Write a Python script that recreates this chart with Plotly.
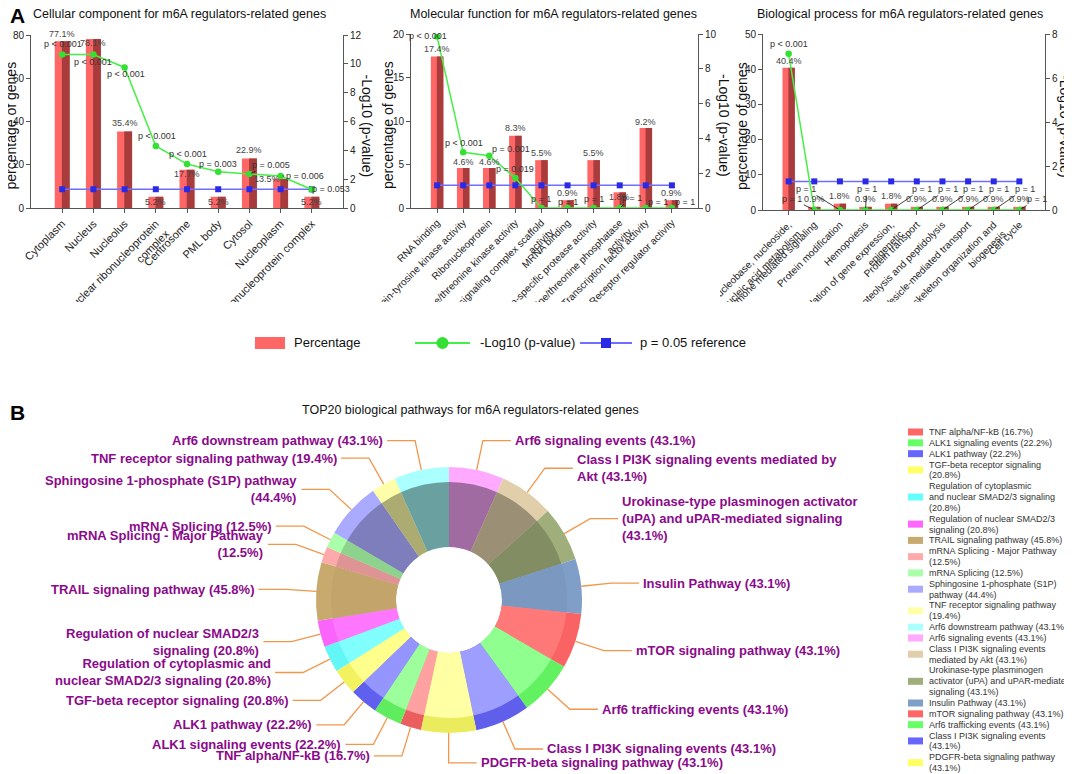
import numpy as np
import plotly.graph_objects as go

W, H = 1072, 774
OX, OY = 8, 8          # the page body margin shifts the figure by this much
FONT = "Liberation Sans, Arial, sans-serif"

# ---------------- A: GO enrichment data ----------------
cc_terms = ["Cytoplasm", "Nucleus", "Nucleolus",
            "Heterogeneous nuclear ribonucleoprotein<br>complex",
            "Centrosome", "PML body", "Cytosol", "Nucleoplasm",
            "Ribonucleoprotein complex"]
cc_pct = [77.1, 78.1, 35.4, 5.2, 17.7, 5.2, 22.9, 13.5, 5.2]
cc_logp = [10.65, 10.65, 9.75, 4.3, 3.05, 2.52, 2.36, 2.22, 1.28]
cc_pval = ["p < 0.001", "p < 0.001", "p < 0.001", "p < 0.001", "p < 0.001",
           "p = 0.003", "p = 0.005", "p = 0.006", "p = 0.053"]

mf_terms = ["RNA binding", "Protein-tyrosine kinase activity", "Ribonucleoprotein",
            "Protein serine/threonine kinase activity",
            "Receptor signaling complex scaffold<br>activity", "MRNA binding",
            "Ubiquitin-specific protease activity",
            "Protein serine/threonine phosphatase<br>activity",
            "Transcription factor activity", "Receptor regulator activity"]
mf_pct = [17.4, 4.6, 4.6, 8.3, 5.5, 0.9, 5.5, 1.8, 9.2, 0.9]
mf_logp = [9.85, 3.2, 3.0, 1.72, 0, 0, 0, 0, 0, 0]
mf_pval = ["p < 0.001", "p < 0.001", "p = 0.001", "p = 0.019",
           "p = 1", "p = 1", "p = 1", "p = 1", "p = 1", "p = 1"]

bp_terms = ["Regulation of nucleobase, nucleoside,<br>nucleotide and nucleic acid metabolism",
            "Steroid hormone mediated signaling", "Protein modification", "Hemopoiesis",
            "Regulation of gene expression,<br>epigenetic", "Protein transport",
            "Proteolysis and peptidolysis", "Vesicle-mediated transport",
            "Cytoskeleton organization and<br>biogenesis", "Cell cycle"]
bp_pct = [40.4, 0.9, 1.8, 0.9, 1.8, 0.9, 0.9, 0.9, 0.9, 0.9]
bp_logp = [7.1, 0, 0, 0, 0, 0, 0, 0, 0, 0]
bp_pval = ["p < 0.001"] + ["p = 1"] * 9

p_ref = 0.05
ref_level = -np.log10(p_ref)

# ---------------- B: pathway data (legend order) ----------------
path_names = ["TNF alpha/NF-kB", "ALK1 signaling events", "ALK1 pathway",
              "TGF-beta receptor signaling",
              "Regulation of cytoplasmic and nuclear SMAD2/3 signaling",
              "Regulation of nuclear SMAD2/3 signaling", "TRAIL signaling pathway",
              "mRNA Splicing - Major Pathway", "mRNA Splicing",
              "Sphingosine 1-phosphate (S1P) pathway", "TNF receptor signaling pathway",
              "Arf6 downstream pathway", "Arf6 signaling events",
              "Class I PI3K signaling events mediated by Akt",
              "Urokinase-type plasminogen activator (uPA) and uPAR-mediated signaling",
              "Insulin Pathway", "mTOR signaling pathway", "Arf6 trafficking events",
              "Class I PI3K signaling events", "PDGFR-beta signaling pathway"]
path_pct = [16.7, 22.2, 22.2, 20.8, 20.8, 20.8, 45.8, 12.5, 12.5, 44.4, 19.4,
            43.1, 43.1, 43.1, 43.1, 43.1, 43.1, 43.1, 43.1, 43.1]
donut_labels = ["TNF alpha/NF-kB (16.7%)", "ALK1 signaling events (22.2%)",
                "ALK1 pathway (22.2%)", "TGF-beta receptor signaling (20.8%)",
                "Regulation of cytoplasmic and<br>nuclear SMAD2/3 signaling (20.8%)",
                "Regulation of nuclear SMAD2/3<br>signaling (20.8%)",
                "TRAIL signaling pathway (45.8%)",
                "mRNA Splicing - Major Pathway<br>(12.5%)", "mRNA Splicing (12.5%)",
                "Sphingosine 1-phosphate (S1P) pathway<br>(44.4%)",
                "TNF receptor signaling pathway (19.4%)",
                "Arf6 downstream pathway (43.1%)", "Arf6 signaling events (43.1%)",
                "Class I PI3K signaling events mediated by<br>Akt (43.1%)",
                "Urokinase-type plasminogen activator<br>(uPA) and uPAR-mediated signaling<br>(43.1%)",
                "Insulin Pathway (43.1%)", "mTOR signaling pathway (43.1%)",
                "Arf6 trafficking events (43.1%)", "Class I PI3K signaling events (43.1%)",
                "PDGFR-beta signaling pathway (43.1%)"]
legend_labels = ["TNF alpha/NF-kB (16.7%)", "ALK1 signaling events (22.2%)",
                 "ALK1 pathway (22.2%)", "TGF-beta receptor signaling<br>(20.8%)",
                 "Regulation of cytoplasmic<br>and nuclear SMAD2/3 signaling<br>(20.8%)",
                 "Regulation of nuclear SMAD2/3<br>signaling (20.8%)",
                 "TRAIL signaling pathway (45.8%)",
                 "mRNA Splicing - Major Pathway<br>(12.5%)", "mRNA Splicing (12.5%)",
                 "Sphingosine 1-phosphate (S1P)<br>pathway (44.4%)",
                 "TNF receptor signaling pathway<br>(19.4%)",
                 "Arf6 downstream pathway (43.1%)", "Arf6 signaling events (43.1%)",
                 "Class I PI3K signaling events<br>mediated by Akt (43.1%)",
                 "Urokinase-type plasminogen<br>activator (uPA) and uPAR-mediated<br>signaling (43.1%)",
                 "Insulin Pathway (43.1%)", "mTOR signaling pathway (43.1%)",
                 "Arf6 trafficking events (43.1%)",
                 "Class I PI3K signaling events<br>(43.1%)",
                 "PDGFR-beta signaling pathway<br>(43.1%)"]
path_colors = ["#FF6666", "#66FF66", "#6666FF", "#FFFF66", "#66FFFF", "#FF66FF",
               "#C8A96E", "#FFAAAA", "#AAFFAA", "#AAAAFF", "#FFFFAA", "#AAFFFF",
               "#FFAAFF", "#E0CFAA", "#A0AE7C", "#7F9EC8", "#FF6666", "#66FF66",
               "#6666FF", "#FFFF66"]


def px(x):
    # page pixel -> paper fraction
    return (x - OX) / W


def py(y):
    return 1 - (y - OY) / H


ann = []
shp = []
fig = go.Figure()

# label placement (pixels) for panel A
panels = [
    dict(terms=cc_terms, pct=cc_pct, logp=cc_logp, pval=cc_pval,
         title="Cellular component for m6A regulators-related genes",
         box=(31, 343, 35, 208), ymax=80, ydt=20, y2max=12, tsize=11,
         title_x=179, yt_x=10, y2t_x=367,
         lab_up=[7, -4, 8, -5, -4, -5, 8, 0, -5],
         lab_dx=[0, 0, 0, 0, 0, 0, 0, -14, 0],
         p_dx=[1, 0, 1, 1, 1, 0, 22, 24, 19],
         p_dy=[-10, 8, 7, -10, -10, -8, -9, 0, -1],
         p_arr=[0, 0, 0, 0, 0, 0, 1, 1, 0]),
    dict(terms=mf_terms, pct=mf_pct, logp=mf_logp, pval=mf_pval,
         title="Molecular function for m6A regulators-related genes",
         box=(411, 698, 34, 208), ymax=20, ydt=5, y2max=10, tsize=10,
         title_x=553, yt_x=388, y2t_x=724,
         lab_up=[8, 6, 6, 8, 7, 7, 7, -5, 6, 7],
         lab_dx=[0] * 10,
         p_dx=[-9, 1, 22, 0, 0, 0, 0, 12, 12, 13],
         p_dy=[-1, -9, -7, -9, -9, -6, -9, -10, -6, -6],
         p_arr=[0, 0, 1, 0, 0, 0, 0, 1, 1, 1]),
    dict(terms=bp_terms, pct=bp_pct, logp=bp_logp, pval=bp_pval,
         title="Biological process for m6A regulators-related genes",
         box=(763, 1045, 34, 210), ymax=50, ydt=10, y2max=8, tsize=10,
         title_x=900, yt_x=742, y2t_x=1065,
         lab_up=[7] + [8] * 9,
         lab_dx=[0] * 10,
         p_dx=[0, -22, -34, 1, 31, 31, 31, 31, 31, 18],
         p_dy=[-10, -11, -21, -21, -21, -21, -21, -21, -21, -11],
         p_arr=[0] + [1] * 9),
]

BAR_LIGHT, BAR_DARK = "#FF6666", "#A83C3C"
GREEN, GREEN_M = "#44F044", "#33E033"
BLUE, BLUE_M = "#6E6EFF", "#2A2AE6"
AX = "#555555"

for k, p in enumerate(panels, start=1):
    xa = "x" if k == 1 else "x%d" % k
    ya = "y" if k == 1 else "y%d" % (2 * k - 1)
    ya2 = "y%d" % (2 * k)
    n = len(p["terms"])
    idx = list(range(n))
    x0, x1, y0, y1 = p["box"]

    fig.add_trace(go.Bar(x=idx, y=p["pct"], width=0.48, offset=-0.24,
                         marker=dict(color=BAR_LIGHT, line=dict(width=0)),
                         xaxis=xa, yaxis=ya, hoverinfo="skip", showlegend=False))
    fig.add_trace(go.Bar(x=idx, y=p["pct"], width=0.25, offset=-0.01,
                         marker=dict(color=BAR_DARK, line=dict(width=0)),
                         xaxis=xa, yaxis=ya, hoverinfo="skip", showlegend=False))
    fig.add_trace(go.Scatter(x=idx, y=[ref_level] * n, mode="lines+markers",
                             line=dict(color=BLUE, width=1.5),
                             marker=dict(symbol="square", size=6, color=BLUE_M),
                             xaxis=xa, yaxis=ya2, hoverinfo="skip", showlegend=False))
    fig.add_trace(go.Scatter(x=idx, y=p["logp"], mode="lines+markers",
                             line=dict(color=GREEN, width=1.5),
                             marker=dict(symbol="circle", size=6.5, color=GREEN_M),
                             xaxis=xa, yaxis=ya2, hoverinfo="skip", showlegend=False))

    axis_common = dict(showline=True, linecolor=AX, linewidth=1, ticks="outside",
                       ticklen=4, tickcolor=AX, showgrid=False, zeroline=False,
                       fixedrange=True, automargin=False)
    fig.layout["xaxis" if k == 1 else "xaxis%d" % k] = dict(
        domain=[px(x0), px(x1)], range=[-1, n], tickmode="array", tickvals=idx,
        ticktext=p["terms"], tickangle=-45, anchor=ya,
        tickfont=dict(size=p["tsize"], color="#222", family=FONT), **axis_common)
    fig.layout["yaxis" if k == 1 else "yaxis%d" % (2 * k - 1)] = dict(
        domain=[py(y1), py(y0)], range=[0, p["ymax"]], dtick=p["ydt"], anchor=xa,
        tickfont=dict(size=10, color="#222", family=FONT), **axis_common)
    fig.layout["yaxis%d" % (2 * k)] = dict(
        domain=[py(y1), py(y0)], range=[0, p["y2max"]], dtick=2, anchor=xa,
        overlaying=ya, side="right",
        tickfont=dict(size=10, color="#222", family=FONT), **axis_common)

    # panel titles and axis titles
    ann.append(dict(x=px(p["title_x"]), y=py(14), xref="paper", yref="paper",
                    text=p["title"], showarrow=False, xanchor="center", yanchor="middle",
                    font=dict(size=12.5, color="#111", family=FONT)))
    ymid = (y0 + y1) / 2 + 4
    ann.append(dict(x=px(p["yt_x"]), y=py(ymid), xref="paper", yref="paper",
                    text="percentage of genes", showarrow=False, textangle=-90,
                    xanchor="center", yanchor="middle",
                    font=dict(size=14, color="#111", family=FONT)))
    ann.append(dict(x=px(p["y2t_x"]), y=py(ymid), xref="paper", yref="paper",
                    text="-Log10 (p-value)", showarrow=False, textangle=90,
                    xanchor="center", yanchor="middle",
                    font=dict(size=14, color="#111", family=FONT)))

    # percentage labels on bars
    for i in idx:
        ann.append(dict(x=i, y=p["pct"][i], xref=xa, yref=ya, text="%.1f%%" % p["pct"][i],
                        showarrow=False, xanchor="center", yanchor="middle",
                        xshift=p["lab_dx"][i], yshift=p["lab_up"][i],
                        font=dict(size=9, color="#444", family=FONT)))
    # p-value labels at the -log10 points
    for i in idx:
        a = dict(x=i, y=p["logp"][i], xref=xa, yref=ya2, text=p["pval"][i],
                 font=dict(size=9, color="#333", family=FONT))
        if p["p_arr"][i]:
            a.update(showarrow=True, ax=p["p_dx"][i], ay=p["p_dy"][i], arrowhead=0,
                     arrowwidth=0.8, arrowcolor="#111", standoff=2)
        else:
            a.update(showarrow=False, xanchor="center", yanchor="middle",
                     xshift=p["p_dx"][i], yshift=-p["p_dy"][i])
        ann.append(a)

# clip rotated category labels the way the panel crop does
shp.append(dict(type="rect", xref="paper", yref="paper", x0=0, x1=1,
                y0=py(398), y1=py(302), fillcolor="white", line=dict(width=0),
                layer="above"))
shp.append(dict(type="path", xref="paper", yref="paper",
                path="M %f,%f L %f,%f L %f,%f L %f,%f Z" % (
                    px(692), py(212), px(720), py(212), px(720), py(330), px(575), py(330)),
                fillcolor="white", line=dict(width=0), layer="above"))

# panel A legend
shp.append(dict(type="rect", xref="paper", yref="paper", x0=px(255), x1=px(285),
                y0=py(349), y1=py(337), fillcolor=BAR_LIGHT, line=dict(width=0), layer="above"))
shp.append(dict(type="line", xref="paper", yref="paper", x0=px(415), x1=px(470),
                y0=py(343), y1=py(343), line=dict(color=GREEN, width=2), layer="above"))
shp.append(dict(type="circle", xref="paper", yref="paper", x0=px(436.5), x1=px(448.5),
                y0=py(349), y1=py(337), fillcolor=GREEN_M, line=dict(width=0), layer="above"))
shp.append(dict(type="line", xref="paper", yref="paper", x0=px(580), x1=px(632),
                y0=py(343), y1=py(343), line=dict(color=BLUE, width=2), layer="above"))
shp.append(dict(type="rect", xref="paper", yref="paper", x0=px(601), x1=px(611),
                y0=py(348), y1=py(338), fillcolor=BLUE_M, line=dict(width=0), layer="above"))
for tx, t in [(292, "Percentage"), (478, "-Log10 (p-value)"), (638, "p = 0.05 reference")]:
    ann.append(dict(x=px(tx), y=py(343), xref="paper", yref="paper", text=t,
                    showarrow=False, xanchor="left", yanchor="middle",
                    font=dict(size=13, color="#111", family=FONT)))

# panel letters and B title
for letter, yy in [("A", 15), ("B", 412)]:
    ann.append(dict(x=px(8), y=py(yy), xref="paper", yref="paper", text=letter,
                    showarrow=False, xanchor="left", yanchor="middle",
                    font=dict(size=21, color="#000", family=FONT, weight="bold")))
ann.append(dict(x=px(470), y=py(410), xref="paper", yref="paper",
                text="TOP20 biological pathways for m6A regulators-related genes",
                showarrow=False, xanchor="center", yanchor="middle",
                font=dict(size=12.5, color="#111", family=FONT)))

# ---------------- B: donut ----------------
cx, cy, R, R_band, R_hole = 449, 600, 133, 118, 53
vals = np.array(path_pct)
frac = vals / vals.sum()
start_idx = path_names.index("Arf6 signaling events")
rot = 360 * frac[start_idx:].sum()          # first slice starts here (clockwise from 12 o'clock)
cum = np.concatenate([[0], np.cumsum(frac)[:-1]])
mid = np.radians(rot + 360 * (cum + frac / 2))


def shade(c, kk):
    rgb = [int(c[i:i + 2], 16) for i in (1, 3, 5)]
    if kk >= 0:
        rgb = [v * (1 - kk) for v in rgb]
    else:
        rgb = [v + (255 - v) * (-kk) for v in rgb]
    return "rgb(%d,%d,%d)" % tuple(round(v) for v in rgb)


outer_cols, inner_cols = [], []
for c, th in zip(path_colors, mid):
    co = np.cos(th)
    outer_cols.append(shade(c, 0.08 * max(0.0, -co)))
    inner_cols.append(shade(c, 0.38 * co if co > 0 else 0.4 * co))


def dom(r):
    return dict(x=[px(cx - r), px(cx + r)], y=[py(cy + r), py(cy - r)])


fig.add_trace(go.Pie(labels=path_names, values=path_pct, sort=False, direction="clockwise",
                     rotation=rot, hole=R_hole / R, domain=dom(R), textinfo="none",
                     marker=dict(colors=outer_cols, line=dict(width=0)),
                     hoverinfo="skip", showlegend=False))
fig.add_trace(go.Pie(labels=path_names, values=path_pct, sort=False, direction="clockwise",
                     rotation=rot, hole=R_hole / R_band, domain=dom(R_band), textinfo="none",
                     marker=dict(colors=inner_cols, line=dict(width=0)),
                     hoverinfo="skip", showlegend=False))

LEAD, PURPLE = "#F2974A", "#8B0A8B"
for i, th in enumerate(mid):
    s, c = np.sin(th), np.cos(th)
    ax_, ay_ = cx + R * s, cy - R * c
    ex, ey = cx + 1.225 * R * s, cy - 1.225 * R * c
    right = s > -0.02
    tx = ex + 28 if right else ex - 28
    shp.append(dict(type="path", xref="paper", yref="paper",
                    path="M %f,%f L %f,%f L %f,%f" % (px(ax_), py(ay_), px(ex), py(ey),
                                                      px(tx), py(ey)),
                    line=dict(color=LEAD, width=1.3), layer="above"))
    ann.append(dict(x=px(tx + (2 if right else -2)), y=py(ey), xref="paper", yref="paper",
                    text=donut_labels[i], showarrow=False,
                    xanchor="left" if right else "right", yanchor="middle",
                    align="left" if right else "right",
                    font=dict(size=13, color=PURPLE, family=FONT, weight="bold")))

# pathway legend
LEG_Y0, LEG_DY = 432, 10.84
line_no = 0
for lab, col in zip(legend_labels, path_colors):
    lines = lab.split("<br>")
    ys = [LEG_Y0 + (line_no + j) * LEG_DY for j in range(len(lines))]
    for t, yy in zip(lines, ys):
        ann.append(dict(x=px(927), y=py(yy), xref="paper", yref="paper", text=t,
                        showarrow=False, xanchor="left", yanchor="middle",
                        font=dict(size=9, color="#333", family=FONT)))
    ym = sum(ys) / len(ys)
    shp.append(dict(type="rect", xref="paper", yref="paper", x0=px(908), x1=px(923),
                    y0=py(ym + 3.5), y1=py(ym - 3.5), fillcolor=col, line=dict(width=0),
                    layer="above"))
    line_no += len(lines)

fig.update_layout(width=W, height=H, margin=dict(l=0, r=0, t=0, b=0, autoexpand=False),
                  paper_bgcolor="white", plot_bgcolor="white", barmode="overlay",
                  font=dict(family=FONT), showlegend=False,
                  annotations=ann, shapes=shp)

fig.write_html("out.html", config={"displayModeBar": False})
